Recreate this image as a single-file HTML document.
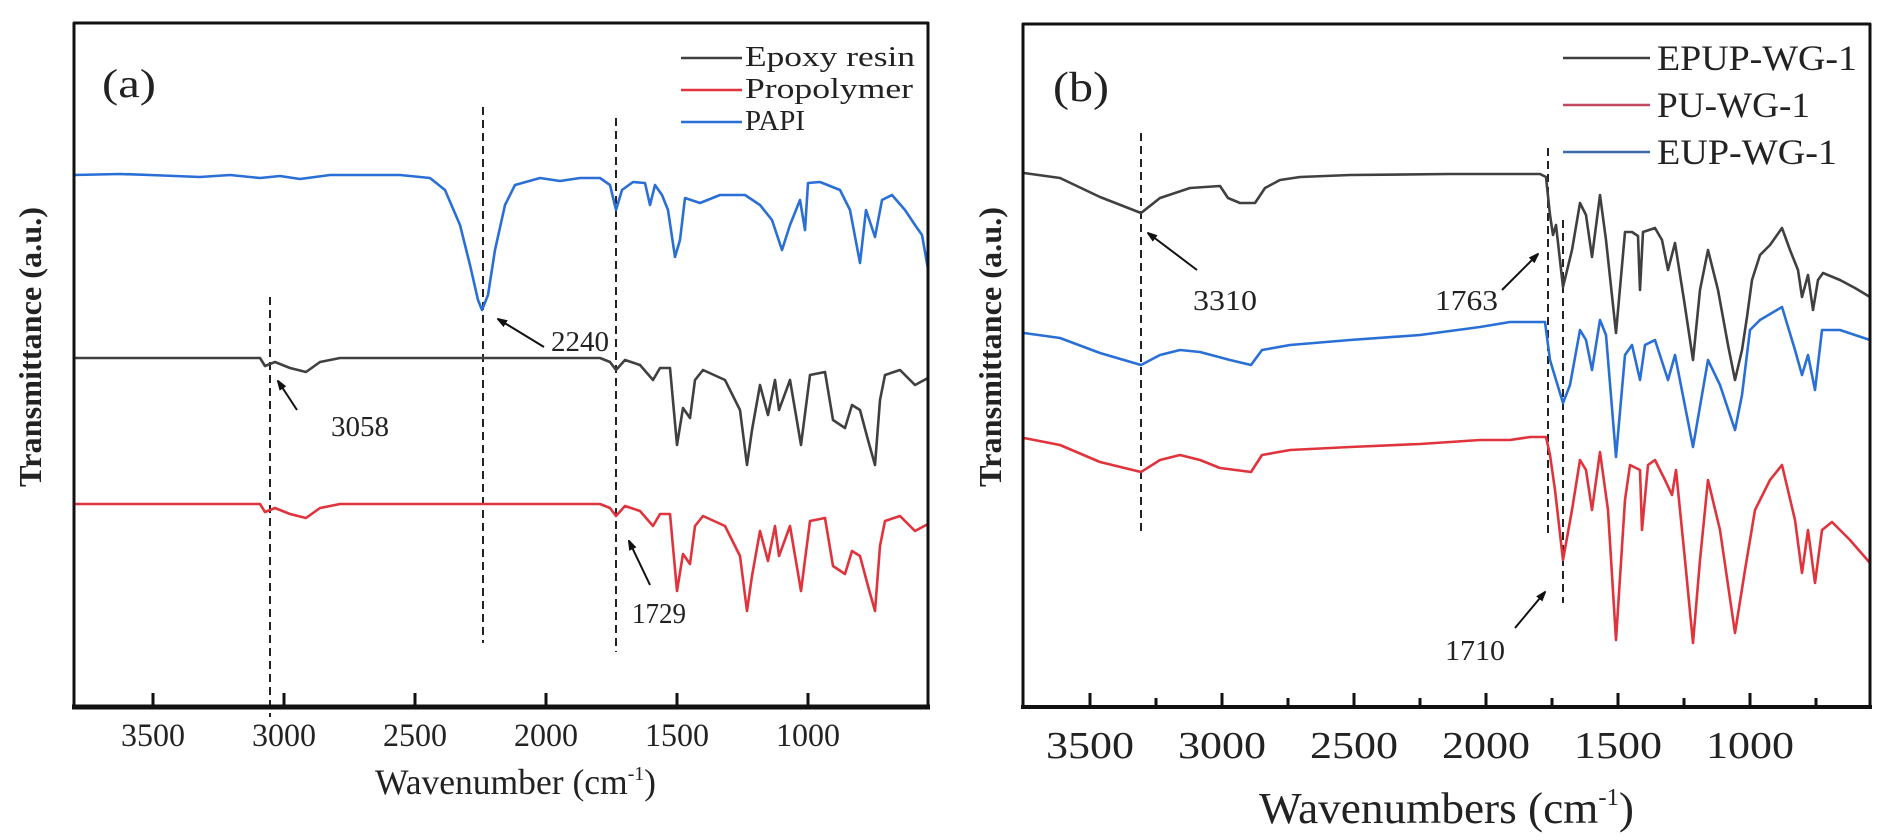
<!DOCTYPE html>
<html><head><meta charset="utf-8"><style>
html,body{margin:0;padding:0;background:#fff;}
svg{display:block;}
text{font-family:"Liberation Serif",serif;fill:#222;}
</style></head><body>
<svg width="1888" height="840" viewBox="0 0 1888 840" xmlns="http://www.w3.org/2000/svg">
<defs>
<marker id="ah" markerWidth="10" markerHeight="8" refX="9" refY="4" orient="auto" markerUnits="userSpaceOnUse"><path d="M0,0 L12,4 L0,8 z" fill="#111"/></marker>
</defs>
<rect width="1888" height="840" fill="#fff"/>

<!-- ===== Panel A ===== -->
<g fill="none" stroke-linejoin="round">
<!-- dashed -->
<g stroke="#222" stroke-width="2" stroke-dasharray="8,5">
<line x1="483" y1="107" x2="483" y2="643"/>
<line x1="616" y1="118" x2="616" y2="652"/>
<line x1="270" y1="297" x2="270" y2="717"/>
</g>
<!-- blue PAPI -->
<polyline stroke="#2a6fd6" stroke-width="2.6" points="74,175 120,174 150,175 200,177 230,175 260,178 280,176 300,179 330,175 400,175 430,178 445,190 460,225 470,265 478,300 482,310 488,295 495,250 505,205 515,185 540,178 560,181 580,178 600,178 610,185 616,210 622,190 633,182 645,183 650,205 655,185 662,195 668,210 675,257 680,240 685,198 700,203 720,195 745,195 760,205 772,220 782,250 790,225 800,200 805,230 808,183 820,182 840,190 850,210 860,263 866,210 875,237 882,200 892,195 905,210 915,225 922,235 928,269"/>
<!-- black Epoxy -->
<polyline stroke="#404040" stroke-width="2.6" points="74,358 260,358 265,366 275,362 290,368 306,372 320,362 340,358 600,358 610,362 616,370 625,360 640,365 653,380 660,368 670,368 677,445 683,408 690,418 695,380 703,370 725,380 740,410 747,465 752,430 760,385 768,415 775,380 779,410 790,380 801,445 810,375 825,372 833,420 845,428 852,405 860,410 868,440 875,465 880,400 885,375 900,370 915,385 928,378"/>
<!-- red Propolymer -->
<polyline stroke="#e0333c" stroke-width="2.6" transform="translate(0,146)" points="74,358 260,358 265,366 275,362 290,368 306,372 320,362 340,358 600,358 610,362 616,370 625,360 640,365 653,380 660,368 670,368 677,445 683,408 690,418 695,380 703,370 725,380 740,410 747,465 752,430 760,385 768,415 775,380 779,410 790,380 801,445 810,375 825,372 833,420 845,428 852,405 860,410 868,440 875,465 880,400 885,375 900,370 915,385 928,378"/>
<!-- arrows -->
<g stroke="#111" stroke-width="2">
<line x1="544" y1="347" x2="498" y2="319" marker-end="url(#ah)"/>
<line x1="297" y1="410" x2="278" y2="381" marker-end="url(#ah)"/>
<line x1="650" y1="585" x2="629" y2="541" marker-end="url(#ah)"/>
</g>
<!-- legend lines -->
<line x1="681" y1="58" x2="742" y2="58" stroke="#404040" stroke-width="2.6"/>
<line x1="681" y1="90" x2="742" y2="90" stroke="#e0333c" stroke-width="2.6"/>
<line x1="681" y1="122" x2="742" y2="122" stroke="#2a6fd6" stroke-width="2.6"/>
<!-- frame -->
<rect x="74" y="23" width="854" height="684" stroke="#111" stroke-width="3"/>
<line x1="72" y1="707" x2="930" y2="707" stroke="#111" stroke-width="5"/>
<g stroke="#111" stroke-width="3">
<line x1="153" y1="707" x2="153" y2="693"/><line x1="284" y1="707" x2="284" y2="693"/>
<line x1="415" y1="707" x2="415" y2="693"/><line x1="546" y1="707" x2="546" y2="693"/>
<line x1="677" y1="707" x2="677" y2="693"/><line x1="808" y1="707" x2="808" y2="693"/>
</g>
</g>
<text x="102" y="97" font-size="40" textLength="54" lengthAdjust="spacingAndGlyphs">(a)</text>
<text x="745" y="66" font-size="29" textLength="170" lengthAdjust="spacingAndGlyphs">Epoxy resin</text>
<text x="745" y="98" font-size="29" textLength="168" lengthAdjust="spacingAndGlyphs">Propolymer</text>
<text x="745" y="130" font-size="29" textLength="60" lengthAdjust="spacingAndGlyphs">PAPI</text>
<text x="551" y="351" font-size="28" textLength="58" lengthAdjust="spacingAndGlyphs">2240</text>
<text x="331" y="436" font-size="28" textLength="58" lengthAdjust="spacingAndGlyphs">3058</text>
<text x="632" y="623" font-size="28" textLength="54" lengthAdjust="spacingAndGlyphs">1729</text>
<g font-size="33" text-anchor="middle">
<text x="153" y="746" textLength="64" lengthAdjust="spacingAndGlyphs">3500</text>
<text x="284" y="746" textLength="64" lengthAdjust="spacingAndGlyphs">3000</text>
<text x="415" y="746" textLength="64" lengthAdjust="spacingAndGlyphs">2500</text>
<text x="546" y="746" textLength="64" lengthAdjust="spacingAndGlyphs">2000</text>
<text x="677" y="746" textLength="64" lengthAdjust="spacingAndGlyphs">1500</text>
<text x="808" y="746" textLength="64" lengthAdjust="spacingAndGlyphs">1000</text>
</g>
<text x="375" y="794" font-size="36" textLength="281" lengthAdjust="spacingAndGlyphs">Wavenumber (cm<tspan font-size="20" dy="-14">-1</tspan><tspan dy="14">)</tspan></text>
<text transform="translate(41,347) rotate(-90)" text-anchor="middle" font-size="32" font-weight="bold" textLength="280" lengthAdjust="spacingAndGlyphs">Transmittance (a.u.)</text>

<!-- ===== Panel B ===== -->
<g fill="none" stroke-linejoin="round">
<g stroke="#222" stroke-width="2" stroke-dasharray="8,5">
<line x1="1141" y1="133" x2="1141" y2="535"/>
<line x1="1548" y1="148" x2="1548" y2="533"/>
<line x1="1563" y1="220" x2="1563" y2="603"/>
</g>
<!-- black EPUP -->
<polyline stroke="#404040" stroke-width="2.6" points="1024,173 1060,178 1100,197 1141,213 1160,198 1190,188 1220,186 1228,198 1240,203 1255,203 1265,188 1280,180 1300,177 1350,175 1450,174 1540,174 1546,177 1550,215 1553,235 1556,225 1563,287 1572,250 1580,203 1586,215 1592,257 1600,195 1606,240 1616,333 1625,232 1632,232 1638,236 1640,290 1643,232 1655,228 1662,240 1668,270 1675,243 1684,300 1693,360 1700,290 1708,250 1718,290 1728,345 1735,380 1742,350 1747,317 1752,280 1760,255 1770,245 1782,228 1790,250 1798,270 1802,297 1808,275 1813,310 1818,280 1823,273 1840,280 1855,288 1870,297"/>
<!-- blue EUP -->
<polyline stroke="#2a6fd6" stroke-width="2.6" points="1024,333 1060,338 1100,353 1141,365 1160,355 1180,350 1200,352 1230,360 1251,365 1262,350 1290,345 1350,340 1420,335 1480,327 1510,322 1545,322 1550,360 1553,370 1563,403 1570,385 1580,330 1586,340 1592,370 1600,320 1606,335 1616,457 1625,355 1632,345 1640,380 1645,345 1655,340 1668,380 1675,355 1693,447 1708,360 1720,385 1735,430 1742,395 1750,330 1760,320 1782,307 1795,350 1802,375 1808,355 1815,390 1822,330 1840,330 1870,340"/>
<!-- red PU -->
<polyline stroke="#e0333c" stroke-width="2.6" points="1024,438 1060,445 1100,462 1141,472 1160,460 1180,455 1200,460 1220,468 1251,472 1262,455 1290,450 1350,447 1420,444 1480,440 1510,440 1530,437 1546,437 1550,455 1555,490 1563,560 1572,510 1580,460 1586,470 1592,510 1600,452 1608,510 1616,640 1625,500 1630,465 1640,470 1642,530 1648,465 1655,460 1665,480 1672,495 1676,470 1685,560 1693,643 1700,560 1708,480 1720,530 1735,633 1745,570 1755,510 1770,480 1782,465 1795,520 1802,573 1808,530 1815,583 1822,530 1832,522 1850,540 1870,563"/>
<g stroke="#111" stroke-width="2">
<line x1="1197" y1="270" x2="1148" y2="233" marker-end="url(#ah)"/>
<line x1="1502" y1="290" x2="1538" y2="254" marker-end="url(#ah)"/>
<line x1="1515" y1="628" x2="1545" y2="592" marker-end="url(#ah)"/>
</g>
<line x1="1563" y1="58" x2="1650" y2="58" stroke="#404040" stroke-width="2.6"/>
<line x1="1563" y1="105" x2="1650" y2="105" stroke="#c04a60" stroke-width="2.6"/>
<line x1="1563" y1="152" x2="1650" y2="152" stroke="#3a6aa8" stroke-width="2.6"/>
<rect x="1023" y="24" width="847" height="683" stroke="#111" stroke-width="3"/>
<line x1="1021" y1="707" x2="1872" y2="707" stroke="#111" stroke-width="4"/>
<g stroke="#111" stroke-width="3">
<line x1="1090" y1="707" x2="1090" y2="693"/><line x1="1222" y1="707" x2="1222" y2="693"/>
<line x1="1354" y1="707" x2="1354" y2="693"/><line x1="1486" y1="707" x2="1486" y2="693"/>
<line x1="1618" y1="707" x2="1618" y2="693"/><line x1="1750" y1="707" x2="1750" y2="693"/>
<line x1="1156" y1="707" x2="1156" y2="698"/><line x1="1288" y1="707" x2="1288" y2="698"/>
<line x1="1420" y1="707" x2="1420" y2="698"/><line x1="1552" y1="707" x2="1552" y2="698"/>
<line x1="1684" y1="707" x2="1684" y2="698"/><line x1="1816" y1="707" x2="1816" y2="698"/>
</g>
</g>
<text x="1053" y="101" font-size="42" textLength="56" lengthAdjust="spacingAndGlyphs">(b)</text>
<text x="1657" y="70" font-size="36" textLength="200" lengthAdjust="spacingAndGlyphs">EPUP-WG-1</text>
<text x="1657" y="117" font-size="36" textLength="153" lengthAdjust="spacingAndGlyphs">PU-WG-1</text>
<text x="1657" y="164" font-size="36" textLength="180" lengthAdjust="spacingAndGlyphs">EUP-WG-1</text>
<text x="1193" y="310" font-size="29" textLength="64" lengthAdjust="spacingAndGlyphs">3310</text>
<text x="1435" y="310" font-size="29" textLength="63" lengthAdjust="spacingAndGlyphs">1763</text>
<text x="1445" y="660" font-size="29" textLength="60" lengthAdjust="spacingAndGlyphs">1710</text>
<g font-size="38" text-anchor="middle">
<text x="1090" y="758" textLength="88" lengthAdjust="spacingAndGlyphs">3500</text>
<text x="1222" y="758" textLength="88" lengthAdjust="spacingAndGlyphs">3000</text>
<text x="1354" y="758" textLength="88" lengthAdjust="spacingAndGlyphs">2500</text>
<text x="1486" y="758" textLength="88" lengthAdjust="spacingAndGlyphs">2000</text>
<text x="1618" y="758" textLength="88" lengthAdjust="spacingAndGlyphs">1500</text>
<text x="1750" y="758" textLength="88" lengthAdjust="spacingAndGlyphs">1000</text>
</g>
<text x="1259" y="823" font-size="44" textLength="375" lengthAdjust="spacingAndGlyphs">Wavenumbers (cm<tspan font-size="24" dy="-18">-1</tspan><tspan dy="18">)</tspan></text>
<text transform="translate(1001,347) rotate(-90)" text-anchor="middle" font-size="32" font-weight="bold" textLength="280" lengthAdjust="spacingAndGlyphs">Transmittance (a.u.)</text>
</svg>
</body></html>
